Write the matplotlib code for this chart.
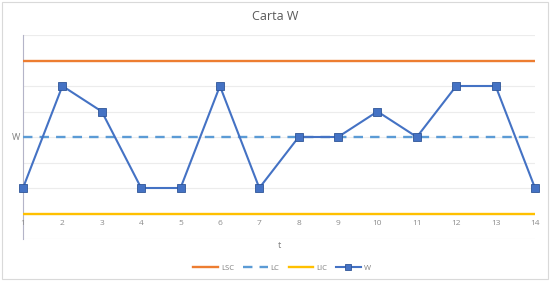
import matplotlib
matplotlib.use("Agg")
import matplotlib.pyplot as plt
from matplotlib.patches import Rectangle
from matplotlib.transforms import offset_copy

t = list(range(1, 15))
w = [1, 5, 4, 1, 1, 5, 1, 3, 3, 4, 3, 5, 5, 1]
lsc = [6] * 14
lc = [3] * 14
lic = [0] * 14

plt.rcParams['font.family'] = ['Open Sans', 'DejaVu Sans']

fig = plt.figure(figsize=(5.5, 2.81), dpi=100)
W, H = 550, 281
ax = fig.add_axes([23 / W, (H - 239) / H, (535 - 23) / W, (239 - 35) / H])

ax.plot(t, lsc, color='#ED7D31', lw=1.7, label='LSC', zorder=3)
ax.plot(t, lc, color='#5B9BD5', lw=1.7, ls=(0, (4, 3)), label='LC', zorder=3)
ax.plot(t, lic, color='#FFC000', lw=1.7, label='LIC', zorder=3)
ax.plot(t, w, color='#4472C4', lw=1.5, marker='s', markersize=6,
        markerfacecolor='#4472C4', markeredgecolor='#2F5597', markeredgewidth=0.6,
        label='W', zorder=4, clip_on=False)

ax.set_xlim(1, 14)
ax.set_ylim(-1, 7)
ax.set_xticks([])
ax.set_yticks(range(-1, 8))
ax.yaxis.grid(True, color='#ececec', lw=0.8)
ax.set_axisbelow(True)
ax.tick_params(axis='y', length=0, labelleft=False)
for s in ['bottom', 'top', 'right']:
    ax.spines[s].set_visible(False)
ax.spines['left'].set_color('#b4b4c8')
ax.spines['left'].set_linewidth(0.8)

trans = offset_copy(ax.transData, fig=fig, x=0, y=-10, units='dots')
for x in t:
    ax.text(x, 0, str(x), transform=trans, ha='center', va='center', fontsize=6,
            color='#8c8c8c', clip_on=False, zorder=6)

fig.text(16 / W, 1 - 137 / H, 'W', ha='center', va='center', fontsize=6.5, color='#7f7f7f')
fig.text(279 / W, 1 - 246 / H, 't', ha='center', va='center', fontsize=6.5, color='#7f7f7f')
fig.text(275 / W, 1 - 16 / H, 'Carta W', ha='center', va='center', fontsize=9, color='#595959')

leg = fig.legend(loc='center', bbox_to_anchor=(282 / W, 1 - 268 / H), ncol=4, frameon=False,
                 fontsize=5.5, handlelength=3.2, columnspacing=1.2, handletextpad=0.4, markerscale=0.7)
for txt in leg.get_texts():
    txt.set_color('#7f7f7f')

fig.patches.append(Rectangle((2 / W, 2 / H), 1 - 4 / W, 1 - 4 / H, transform=fig.transFigure,
                             fill=False, edgecolor='#d9d9d9', lw=0.8))

fig.savefig('out.png', dpi=100)
